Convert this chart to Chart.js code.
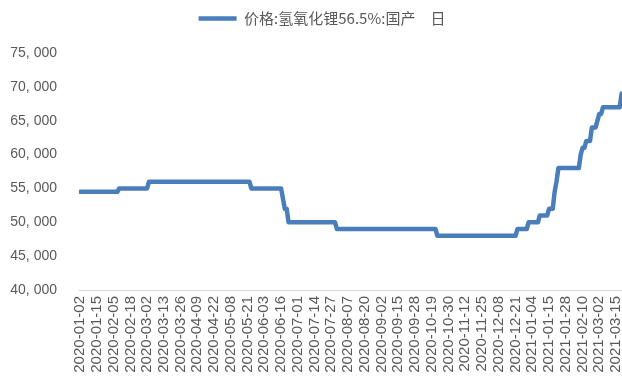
<!DOCTYPE html>
<html>
<head>
<meta charset="utf-8">
<script src="https://cdn.jsdelivr.net/npm/chart.js@4"></script>
<style>
  html, body { margin: 0; padding: 0; background: #fff; overflow: hidden; }
  #wrap { width: 622px; height: 385px; position: relative; }
</style>
</head>
<body>
<div id="wrap"><canvas id="c"></canvas></div>
<script>
// Daily domestic lithium hydroxide (56.5%) price, yuan/ton.
const seriesName = '价格:氢氧化锂56.5%:国产　日';

// Trading-day index at which each price level starts, and the price of that level.
const levelStartDay = [0, 21, 37, 92, 109, 110, 112, 138, 192, 235, 241, 247, 252, 255, 256, 257, 269, 270, 272, 275, 278, 279, 281, 291];
const levelPrice    = [54500, 55000, 56000, 55000, 53500, 52000, 50000, 49000, 48000, 49000, 50000, 51000, 52000, 54500, 56000, 58000, 60000, 61000, 62000, 64000, 65000, 66000, 67000, 69000];
const lastDay = 291;

// Date labels shown on the x axis, one every 9 trading days from day 0.
const tickDates = [
  '2020-01-02', '2020-01-15', '2020-02-05', '2020-02-18', '2020-03-02', '2020-03-13',
  '2020-03-26', '2020-04-09', '2020-04-22', '2020-05-08', '2020-05-21', '2020-06-03',
  '2020-06-16', '2020-07-01', '2020-07-14', '2020-07-27', '2020-08-07', '2020-08-20',
  '2020-09-02', '2020-09-15', '2020-09-28', '2020-10-19', '2020-10-30', '2020-11-12',
  '2020-11-25', '2020-12-08', '2020-12-21', '2021-01-04', '2021-01-15', '2021-01-28',
  '2021-02-10', '2021-03-02', '2021-03-15'
];
const tickEvery = 9;

// Value axis range.
const yMin = 40000;
const yMax = 75000;
const yStep = 5000;

const lineColor = '#4a7ebb';
const textColor = '#595959';

// Each level becomes a flat run from its first to its last trading day.
const points = [];
levelStartDay.forEach((day, i) => {
  const end = i + 1 < levelStartDay.length ? levelStartDay[i + 1] - 1 : lastDay;
  points.push({ x: day, y: levelPrice[i] });
  if (end > day) points.push({ x: end, y: levelPrice[i] });
});

// Leaves room between the legend row and the plot, and centres the legend over the plot.
const legendPlacement = {
  id: 'legendPlacement',
  beforeInit(chart) {
    const fit = chart.legend.fit;
    chart.legend.fit = function () {
      fit.call(this);
      this.height += 17;
    };
  },
  afterLayout(chart) {
    chart.legend.left += 6;
    chart.legend.right += 6;
  }
};

new Chart(document.getElementById('c'), {
  type: 'line',
  data: {
    datasets: [{
      label: seriesName,
      data: points,
      borderColor: lineColor,
      backgroundColor: lineColor,
      borderWidth: 4.5,
      borderJoinStyle: 'round',
      borderCapStyle: 'round',
      tension: 0,
      fill: false,
      pointRadius: 0,
      pointHoverRadius: 0,
      pointHitRadius: 0,
      pointStyle: 'line',
      pointBorderWidth: 4.5,
      pointBorderColor: lineColor
    }]
  },
  plugins: [legendPlacement],
  options: {
    responsive: true,
    maintainAspectRatio: false,
    animation: false,
    events: [],
    layout: { padding: { top: 1, left: 10, right: 0, bottom: 0 } },
    plugins: {
      legend: {
        display: true,
        position: 'top',
        align: 'center',
        labels: {
          usePointStyle: true,
          pointStyleWidth: 38,
          padding: 10,
          color: textColor,
          font: { family: "'Noto Sans CJK SC', 'Noto Sans', sans-serif", size: 15 }
        }
      },
      tooltip: { enabled: false }
    },
    scales: {
      x: {
        type: 'linear',
        min: -0.6,
        max: lastDay + 0.2,
        grid: { display: false, drawTicks: false },
        border: { display: true, color: '#d9d9d9', width: 1 },
        afterBuildTicks(scale) {
          scale.ticks = tickDates.map((_, i) => ({ value: i * tickEvery }));
        },
        afterFit(scale) {
          scale.paddingLeft = 0;
          scale.paddingRight = 0;
          scale.height = 95;
        },
        ticks: {
          autoSkip: false,
          minRotation: 90,
          maxRotation: 90,
          padding: 6,
          color: textColor,
          font: { family: "'Liberation Sans', Arial, sans-serif", size: 15 },
          callback: (v) => {
            const label = tickDates[Math.round(v / tickEvery)];
            return label === undefined ? '' : label;
          }
        }
      },
      y: {
        min: yMin,
        max: yMax,
        grid: { display: false, drawTicks: false },
        border: { display: false },
        afterFit(scale) {
          scale.width = 69;
        },
        ticks: {
          stepSize: yStep,
          padding: 22,
          color: textColor,
          font: { family: "'Liberation Sans', Arial, sans-serif", size: 14 },
          callback: (v) => {
            const s = String(v);
            return s.slice(0, -3) + ', ' + s.slice(-3);
          }
        }
      }
    }
  }
});
</script>
</body>
</html>
